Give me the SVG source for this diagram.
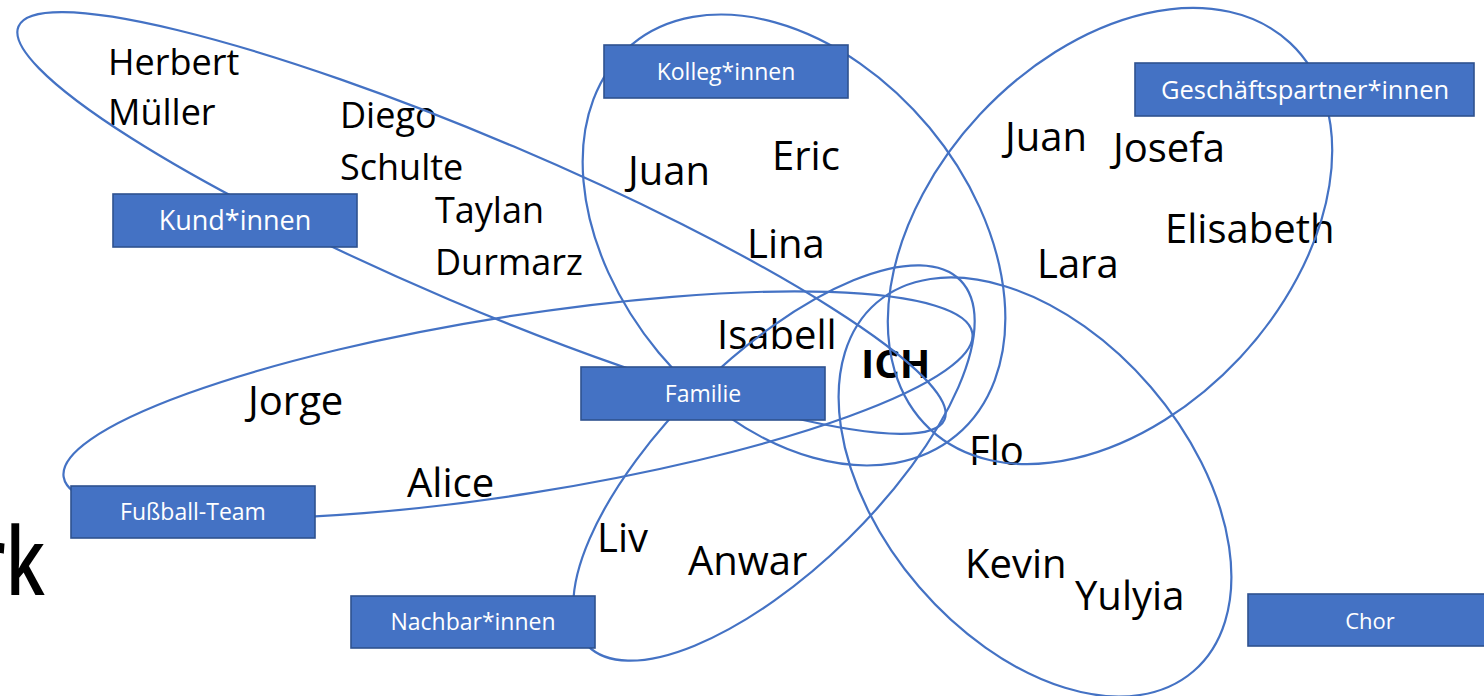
<svg xmlns="http://www.w3.org/2000/svg" width="1484" height="696" viewBox="0 0 1484 696">
  <style>
    .ring { fill: none; stroke: #4472C4; stroke-width: 2.2; }
    .box rect { fill: #4472C4; stroke: #2F528F; stroke-width: 1.6; }
    .box text { fill: #FFFFFF; font-family: "Open Sans", "Noto Sans", sans-serif; text-anchor: middle; }
    .name { fill: #000000; font-family: "Open Sans", "Noto Sans", sans-serif; font-size: 40px; }
    .small { font-size: 36px; }
  </style>
  <rect x="0" y="0" width="1484" height="696" fill="#FFFFFF"/>

  <!-- partial title at left edge (cut off in the reference) -->
  <text transform="translate(45,595) scale(0.72,1)" text-anchor="end" font-family="Open Sans, Noto Sans, sans-serif" font-size="95" font-weight="600" fill="#000">rk</text>

  <!-- names -->
  <g id="names">
    <text class="name small" x="108" y="75">Herbert</text>
    <text class="name small" x="108" y="125">Müller</text>
    <text class="name small" x="340" y="128">Diego</text>
    <text class="name small" x="340" y="180">Schulte</text>
    <text class="name small" x="435" y="223">Taylan</text>
    <text class="name small" x="435" y="275">Durmarz</text>
    <text class="name" x="628" y="185">Juan</text>
    <text class="name" x="772" y="170">Eric</text>
    <text class="name" x="747" y="258">Lina</text>
    <text class="name" x="717" y="349">Isabell</text>
    <text class="name" x="861" y="378" font-weight="bold" font-size="38">ICH</text>
    <text class="name" x="248" y="415">Jorge</text>
    <text class="name" x="407" y="497">Alice</text>
    <text class="name" x="597" y="552">Liv</text>
    <text class="name" x="688" y="575">Anwar</text>
    <text class="name" x="969" y="465">Flo</text>
    <text class="name" x="965" y="578">Kevin</text>
    <text class="name" x="1075" y="610">Yulyia</text>
    <text class="name" x="1005" y="151">Juan</text>
    <text class="name" x="1113" y="162">Josefa</text>
    <text class="name" x="1165" y="243">Elisabeth</text>
    <text class="name" x="1037" y="278">Lara</text>
  </g>

  <!-- group outlines -->
  <g id="connectors">
    <ellipse class="ring" id="ring-kund" cx="481.5" cy="223" rx="503" ry="83" transform="rotate(23 481.5 223)"/>
    <ellipse class="ring" id="ring-kolleg" cx="794" cy="240" rx="254" ry="176" transform="rotate(50.3 794 240)"/>
    <ellipse class="ring" id="ring-geschaeft" cx="1110" cy="236" rx="264" ry="178" transform="rotate(-47 1110 236)"/>
    <ellipse class="ring" id="ring-fussball" cx="518" cy="405" rx="460" ry="89" transform="rotate(-9 518 405)"/>
    <ellipse class="ring" id="ring-nachbar" cx="774" cy="463" rx="261" ry="106" transform="rotate(-44.4 774 463)"/>
    <ellipse class="ring" id="ring-familie" cx="1035" cy="487" rx="243" ry="153" transform="rotate(49.3 1035 487)"/>
  </g>

  <!-- category boxes -->
  <g id="kolleg" class="box">
    <rect x="604" y="45" width="244" height="53"/>
    <text x="726" y="80" font-size="23">Kolleg*innen</text>
  </g>
  <g id="geschaeft" class="box">
    <rect x="1135" y="63" width="339" height="53"/>
    <text x="1305" y="99" font-size="25.5">Geschäftspartner*innen</text>
  </g>
  <g id="kund" class="box">
    <rect x="113" y="194" width="244" height="53"/>
    <text x="235" y="230" font-size="27">Kund*innen</text>
  </g>
  <g id="familie" class="box">
    <rect x="581" y="367" width="244" height="53"/>
    <text x="703" y="402" font-size="23">Familie</text>
  </g>
  <g id="fussball" class="box">
    <rect x="71" y="486" width="244" height="52"/>
    <text x="193" y="520" font-size="23">Fußball-Team</text>
  </g>
  <g id="nachbar" class="box">
    <rect x="351" y="596" width="244" height="52"/>
    <text x="473" y="630" font-size="23">Nachbar*innen</text>
  </g>
  <g id="chor" class="box">
    <rect x="1248" y="594" width="244" height="52"/>
    <text x="1370" y="629" font-size="22">Chor</text>
  </g>
</svg>
